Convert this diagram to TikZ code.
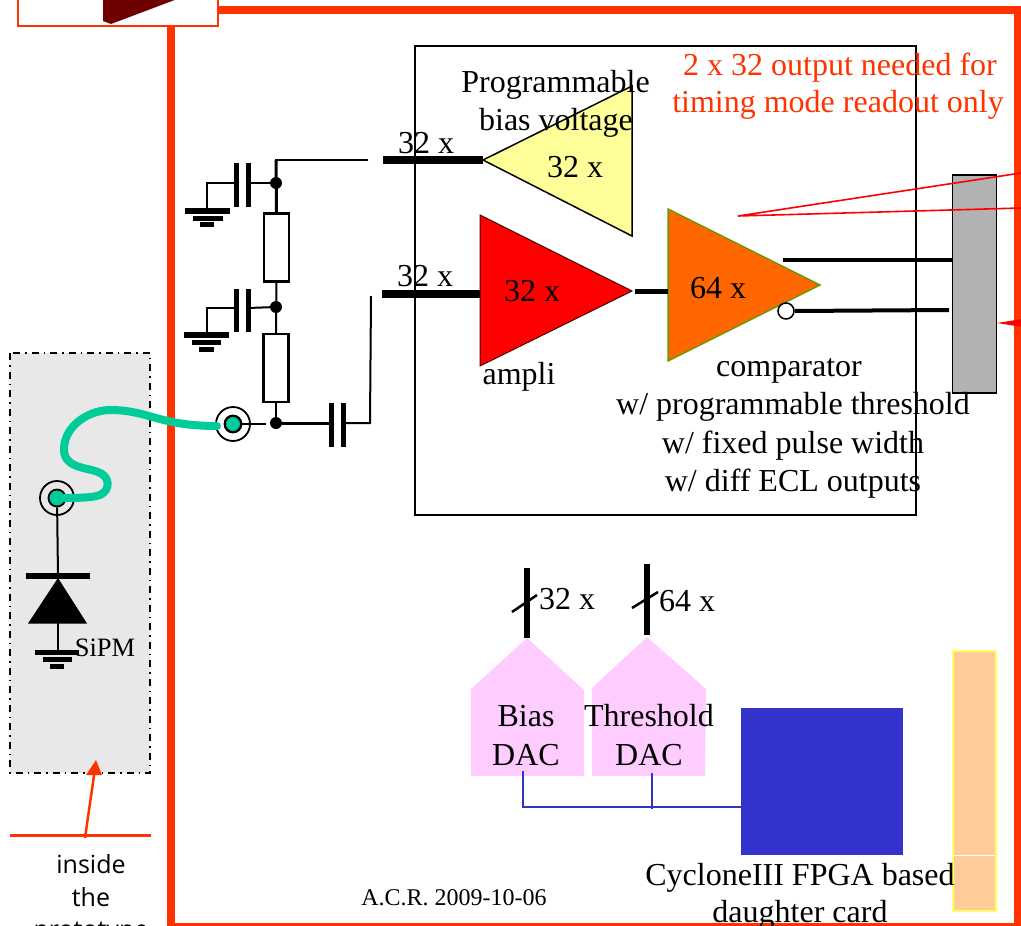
\documentclass[tikz,border=0pt]{standalone}
\usepackage{fontspec}
\setmainfont{Liberation Serif}
\newfontfamily\handfont{Open Sans}
\usetikzlibrary{calc}
\definecolor{framered}{HTML}{FF3300}
\definecolor{teal}{HTML}{00CC99}
\definecolor{pinkdac}{HTML}{FFCCFF}
\definecolor{bluefpga}{HTML}{3333CC}
\definecolor{peach}{HTML}{FFCC99}
\definecolor{palegold}{HTML}{FFFF66}
\definecolor{paleyellow}{HTML}{FFFF99}
\definecolor{orangeamp}{HTML}{FF6600}
\definecolor{olive}{HTML}{669900}
\definecolor{greybox}{HTML}{B2B2B2}
\definecolor{greypanel}{HTML}{E8E8E8}
\definecolor{darkwine}{HTML}{6E0000}
\tikzset{
  lbl/.style={anchor=base,inner sep=0pt,font=\fontsize{32}{38}\selectfont},
  redlbl/.style={lbl,text=framered},
  small/.style={anchor=base,inner sep=0pt,font=\fontsize{26.5}{30}\selectfont},
  hand/.style={anchor=base,inner sep=0pt,font=\handfont\fontsize{25}{30}\selectfont},
  wire/.style={draw=black,line width=2pt},
  wirethick/.style={draw=black,line width=3pt},
  bus/.style={draw=black,line width=8pt},
  plate/.style={draw=black,line width=5pt},
  gnd/.style={draw=black,line width=5pt},
  dot/.style={circle,fill=black,inner sep=0pt,minimum size=12pt},
  resistor/.style={draw=black,fill=white,line width=2.2pt,inner sep=0pt,minimum width=25pt,minimum height=68pt},
  coaxouter/.style={circle,draw=black,fill=none,line width=1.8pt,inner sep=0pt,minimum size=34pt},
  coaxinner/.style={circle,draw=black,fill=teal,line width=1.8pt,inner sep=0pt,minimum size=17pt},
  cable/.style={draw=teal,line width=8pt,line cap=round},
  bluewire/.style={draw=bluefpga,line width=2.5pt},
  redline/.style={draw=red,line width=1.6pt},
  dac/.style={fill=pinkdac,draw=none}
}
\begin{document}
\begin{tikzpicture}[x=1pt,y=-1pt]
\useasboundingbox (0,0) rectangle (1021,926);
\clip (0,0) rectangle (1021,926);
% outer frame
\draw[draw=framered,line width=8pt] (171,927) -- (171,10) -- (1018,10) -- (1018,927);
\draw[draw=framered,line width=4pt] (171,925) -- (1018,925);
% top box
\draw[draw=framered,fill=white,line width=2pt] (18,-5) rectangle (218,25.5);
\fill[darkwine] (103,-2) -- (103,21) -- (111,24) -- (180,-2) -- cycle;
% SiPM panel
\draw[draw=black,fill=greypanel,line width=1.5pt,dash pattern=on 7pt off 5pt on 1.5pt off 5pt] (10,353) rectangle (150,773);
% main box
\draw[draw=black,line width=1.8pt] (415,46) rectangle (916,515);
% triangles
\draw[fill=paleyellow,draw=black,line width=1.5pt] (483,160) coordinate (biasin) -- (632,86) -- (632,236) -- cycle;
\draw[fill=red,draw=black!70!red,line width=1pt] (480,215) -- (480,366) -- (632,291) coordinate (ampout) -- cycle;
\draw[fill=orangeamp,draw=olive,line width=1.5pt] (668,209) -- (668,361) -- (820,285) -- cycle;
\coordinate (ampin) at (480,294);
\coordinate (compin) at (668,291);
% buses
\coordinate (busbiasleft) at (383,160);
\coordinate (busampleft) at (382,294);
\draw[bus] (busbiasleft) -- (biasin);
\draw[bus] (busampleft) -- (ampin);
\draw[draw=black,line width=5pt] (635,291) -- (compin);
% grey connector
\node[draw=black,fill=greybox,line width=1.8pt,inner sep=0pt,minimum width=44pt,minimum height=218pt] (conn) at (974.5,284) {};
\node[circle,draw=black,fill=white,line width=1.5pt,inner sep=0pt,minimum size=16pt] (bubble) at (786,311) {};
\coordinate (outA) at (783,260);
\coordinate (outAe) at (952,260);
\coordinate (outBe) at (949,310);
\draw[draw=black,line width=4pt] (outA) -- (outAe);
\draw[draw=black,line width=4pt] (bubble.east) -- (outBe);
% red lines
\coordinate (rtip) at (738,216);
\coordinate (r1) at (1021,173);
\coordinate (r2) at (1021,208);
\draw[redline] (r1) -- (rtip) -- (r2);
\coordinate (s1) at (1021,320);
\coordinate (s2) at (1021,326);
\coordinate (stip) at (1002,323);
\draw[redline,fill=red] (s1) -- (stip) -- (s2);
% bias network
\node[resistor] (r-top) at (276.5,247.5) {};
\node[resistor] (r-bot) at (276,368) {};
\node[dot] (n1) at (276,183) {};
\node[dot] (n2) at (276,307) {};
\node[dot] (n3) at (276,423) {};
\coordinate (topcorner) at (276,160);
\coordinate (topend) at (368,160);
\draw[draw=black,line width=2pt] (topend) -- (topcorner) -- (276,183);
\draw[draw=black,line width=3pt] (276,160) -- (r-top.north);
\draw[wire] (r-top.south) -- (r-bot.north);
\draw[wire] (r-bot.south) -- (n3);
% capacitor 1
\coordinate (c1a) at (236,183); \coordinate (c1b) at (248,183);
\draw[plate] (236,163) -- (236,207);
\draw[plate] (248,163) -- (248,207);
\draw[wire] (n1) -- (c1b);
\draw[wire] (c1a) -- (207,183) -- (207,209);
\draw[gnd,line width=6pt] (185,211) -- (230,211);
\draw[gnd] (193,218) -- (223,218);
\draw[gnd] (200,224.5) -- (214,224.5);
% capacitor 2
\coordinate (c2a) at (236,308); \coordinate (c2b) at (248,308);
\draw[plate] (236,289) -- (236,332);
\draw[plate] (248,289) -- (248,332);
\draw[wire] (n2) -- (c2b);
\draw[wire] (c2a) -- (207,308) -- (207,333);
\draw[gnd,line width=6pt] (184,335) -- (229,335);
\draw[gnd] (192,342) -- (221,342);
\draw[gnd] (199,349) -- (214,349);
% capacitor 3
\coordinate (c3a) at (331,423); \coordinate (c3b) at (343,423);
\draw[plate] (331,403) -- (331,447);
\draw[plate] (343,403) -- (343,447);
\draw[wirethick] (n3) -- (c3a);
\draw[wire] (c3b) -- (370,423) -- (371,296);
% coax on frame
\node[coaxouter] (coaxR) at (233,424) {};
\node[coaxinner] (coaxRi) at (233,424) {};
\coordinate (coaxRe) at (266,424);
\draw[wire] (coaxRi) -- (coaxRe);
% SiPM
\node[coaxouter] (coaxL) at (57,498) {};
\node[coaxinner] (coaxLi) at (57,498) {};
\coordinate (diodeTop) at (58,576);
\coordinate (diodeBot) at (58,652);
\draw[wire] (coaxLi) -- (diodeTop);
\draw[wire] (diodeTop) -- (diodeBot);
\draw[draw=black,line width=6pt] (26,576) -- (90,576);
\fill[black] (58,578) -- (28,623.5) -- (87,623.5) -- cycle;
\draw[gnd] (35,652) -- (79,652);
\draw[gnd] (43,659.5) -- (72,659.5);
\draw[gnd] (50,666.5) -- (64,666.5);
% cable
\draw[cable] (coaxLi.center) .. controls (75,498) and (92,498) .. (100,495)
  .. controls (111,490) and (110,476) .. (98,472)
  .. controls (85,467) and (63,468) .. (64,448)
  .. controls (65,425) and (90,409) .. (113,410)
  .. controls (150,411) and (160,426) .. (217,426);
\node[coaxinner,minimum size=16pt] (coaxRt) at (233,424) {};
% arrow
\coordinate (aline1) at (10,835);
\coordinate (aline2) at (151,835);
\draw[draw=framered,line width=3pt] (aline1) -- (aline2);
\coordinate (aback) at (85,838);
\coordinate (atip) at (96,760);
\draw[draw=framered,line width=2.5pt] (aback) -- (94.5,772);
\fill[framered] (atip) -- (86,775) -- (102,775) -- cycle;
% DACs
\fill[dac] (470,690) -- (527,638) -- (584,690) -- (584,776) -- (471,776) -- (471,690) -- cycle;
\fill[dac] (591,689) -- (647,637) -- (706,689) -- (705,776) -- (592,776) -- (592,689) -- cycle;
\coordinate (dacA) at (527,638);
\coordinate (dacB) at (647,635);
\draw[draw=black,line width=5.5pt] (527,568) -- (dacA);
\draw[draw=black,line width=5.5pt] (647,564) -- (dacB);
\draw[draw=black,line width=2.5pt] (512,612) -- (537,595);
\draw[draw=black,line width=2.5pt] (632,608) -- (658,592);
% FPGA
\node[fill=bluefpga,inner sep=0pt,minimum width=162pt,minimum height=147pt] (fpga) at (822,781.5) {};
\coordinate (dacAb) at (523,771);
\coordinate (dacBb) at (652,773);
\coordinate (busL) at (523,807);
\coordinate (busJ) at (652,807);
\draw[bluewire] (dacAb) -- (busL) -- (fpga.west |- busL);
\draw[bluewire] (dacBb) -- (652,808.5);
% peach card
\node[draw=palegold,fill=peach,line width=2pt,inner sep=0pt,minimum width=43pt,minimum height=260pt] (card) at (974.5,781) {};
\draw[draw=white,line width=1pt] (954,855.5) -- (995,855.5);
% texts
\node[lbl] (tprog) at (555.5,92) {Programmable};
\node[lbl] (tbias) at (556,130) {bias voltage};
\node[redlbl] (tred1) at (840,75) {2 x 32 output needed for};
\node[redlbl] (tred2) at (838,112) {timing mode readout only};
\node[lbl] (t32a) at (426,153) {32 x};
\node[lbl] (t32b) at (425,286) {32 x};
\node[lbl] (t32c) at (575,177) {32 x};
\node[lbl] (t32d) at (532,301) {32 x};
\node[lbl] (t64a) at (718,298) {64 x};
\node[lbl] (tampli) at (519,384) {ampli};
\node[lbl] (tcomp) at (789,376) {comparator};
\node[lbl] (tprogth) at (793,414) {w/ programmable threshold};
\node[lbl] (tfixed) at (793,453) {w/ fixed pulse width};
\node[lbl] (tdiff) at (793,491) {w/ diff ECL outputs};
\node[lbl] (t32e) at (567,609) {32 x};
\node[lbl] (t64b) at (687,611) {64 x};
\node[lbl] (tb1) at (526,726) {Bias};
\node[lbl] (tb2) at (526,765) {DAC};
\node[lbl] (tt1) at (649,726) {Threshold};
\node[lbl] (tt2) at (649,765) {DAC};
\node[lbl] (tcy1) at (800,885) {CycloneIII FPGA based};
\node[lbl] (tcy2) at (800,922) {daughter card};
\node[anchor=base,inner sep=0pt,font=\fontsize{24}{28}\selectfont] (tacr) at (454,905) {A.C.R. 2009-10-06};
\node[small] (tsipm) at (105,656) {SiPM};
\node[hand] (th1) at (91,873) {inside};
\node[hand] (th2) at (91,906) {the};
\node[hand] (th3) at (91,938) {prototype};
\end{tikzpicture}
\end{document}
